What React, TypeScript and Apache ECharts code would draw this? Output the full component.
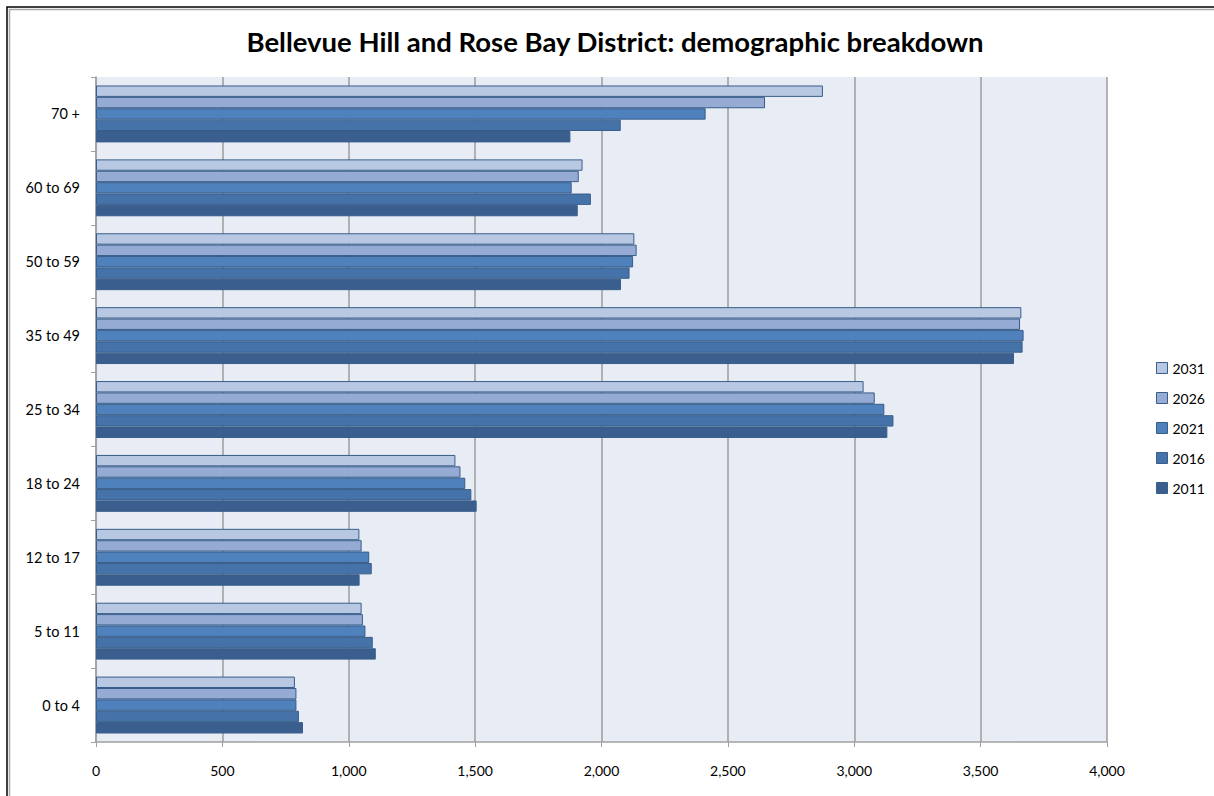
import React, { useEffect, useRef } from "react";
import * as echarts from "echarts";

const categories = ["0 to 4", "5 to 11", "12 to 17", "18 to 24", "25 to 34", "35 to 49", "50 to 59", "60 to 69", "70 +"];
const years = ["2031", "2026", "2021", "2016", "2011"];
const values2031 = [787, 1051, 1042, 1422, 3037, 3661, 2130, 1925, 2876];
const values2026 = [793, 1056, 1051, 1442, 3081, 3656, 2139, 1910, 2647];
const values2021 = [793, 1066, 1081, 1461, 3119, 3670, 2125, 1882, 2412];
const values2016 = [803, 1095, 1091, 1485, 3155, 3666, 2111, 1958, 2076];
const values2011 = [819, 1107, 1043, 1506, 3131, 3632, 2077, 1906, 1877];
const xTicks = { min: 0, max: 4000, interval: 500 };

const seriesData = [values2031, values2026, values2021, values2016, values2011];
const colors = ["#B9C8E2", "#95ABD4", "#4F81BD", "#4573A9", "#3A5F8F"];
const FONT = "Lato";

export default function App() {
  const ref = useRef<HTMLDivElement>(null);
  useEffect(() => {
    if (!ref.current) return;
    const chart = echarts.init(ref.current, null, { renderer: "svg" });
    chart.setOption({
      animation: false,
      backgroundColor: "#ffffff",
      title: {
        text: "Bellevue Hill and Rose Bay District: demographic breakdown",
        left: 610,
        textAlign: "center",
        top: 22,
        textStyle: { fontFamily: FONT, fontWeight: "bold", fontSize: 27.5, color: "#000" },
      },
      graphic: [
        { type: "rect", shape: { x: 7, y: 7, width: 1300, height: 900 }, style: { fill: "none", stroke: "#000", lineWidth: 1.5 }, silent: true },
        { type: "rect", shape: { x: 9.5, y: 9.5, width: 1300, height: 900 }, style: { fill: "none", stroke: "#A8A8A8", lineWidth: 1.5 }, silent: true },
      ],
      legend: {
        orient: "vertical",
        left: 1151,
        top: 356,
        itemWidth: 11,
        itemHeight: 11,
        itemGap: 16,
        data: years,
        icon: "rect",
        itemStyle: { borderColor: "#385D8A", borderWidth: 1 },
        textStyle: { fontFamily: FONT, fontSize: 14, color: "#000", padding: [0, 0, 0, 0] },
      },
      grid: {
        left: 96,
        right: 107,
        top: 77,
        bottom: 54,
        show: true,
        backgroundColor: "#E8ECF4",
        borderWidth: 0,
      },
      xAxis: {
        type: "value",
        min: xTicks.min,
        max: xTicks.max,
        interval: xTicks.interval,
        axisLine: { show: true, lineStyle: { color: "#A0A0A0", width: 1.5 } },
        axisTick: { show: true, length: 5, lineStyle: { color: "#A0A0A0" } },
        splitLine: { show: true, lineStyle: { color: "#9C9C9C", width: 1.5 } },
        axisLabel: {
          margin: 21,
          fontFamily: FONT,
          fontSize: 14,
          color: "#000",
          formatter: (v: number) => v.toLocaleString("en-US"),
        },
      },
      yAxis: {
        type: "category",
        data: categories,
        axisLine: { show: true, lineStyle: { color: "#A0A0A0", width: 1.5 } },
        axisTick: { show: true, length: 5, alignWithLabel: false, lineStyle: { color: "#A0A0A0" } },
        axisLabel: { margin: 16, fontFamily: FONT, fontSize: 14.5, color: "#000" },
        splitLine: { show: false },
      },
      series: years.map((y, i) => ({
        name: y,
        type: "bar",
        data: seriesData[i],
        barGap: "0%",
        barCategoryGap: "23%",
        itemStyle: { color: colors[i], borderColor: "#385D8A", borderWidth: 1 },
      })),
    });
    return () => chart.dispose();
  }, []);
  return <div ref={ref} style={{ position: "absolute", left: 0, top: 0, width: 1214, height: 796 }} />;
}
